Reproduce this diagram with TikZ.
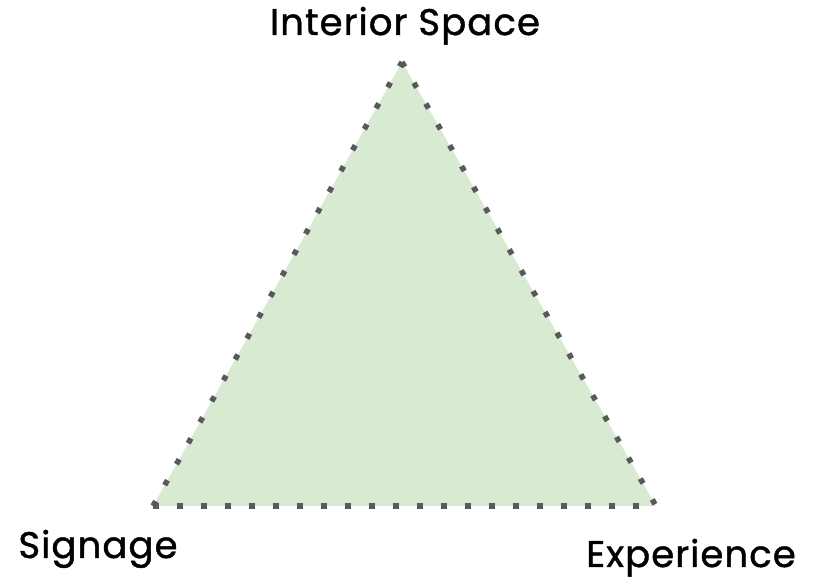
\documentclass[tikz,border=0pt]{standalone}
\usepackage{fontspec}
\setmainfont{Poppins}[FakeBold=1.2, LetterSpace=3]
\definecolor{trifill}{HTML}{D9EAD3}
\definecolor{dotgray}{HTML}{595959}
\begin{document}
\begin{tikzpicture}[x=1pt,y=1pt,
  lbl/.style={font=\fontsize{37}{44}\selectfont, text=black, inner sep=0pt, anchor=base},
  edge/.style={draw=dotgray, line width=5.5pt, dash pattern=on 5.5pt off 18.5pt}]
\useasboundingbox (0,0) rectangle (815,579);
\coordinate (A) at (402,517);
\coordinate (B) at (153,73);
\coordinate (C) at (656,73);
\fill[trifill] (A) -- (B) -- (C) -- cycle;
\draw[edge] (B) -- (A);
\draw[edge] (A) -- (C);
\draw[edge] (B) -- (C);
\node[lbl] (top) at (405,544) {Interior Space};
\node[lbl] (left) at (98,21) {Signage};
\node[lbl] (right) at (691,12) {Experience};
\end{tikzpicture}
\end{document}
